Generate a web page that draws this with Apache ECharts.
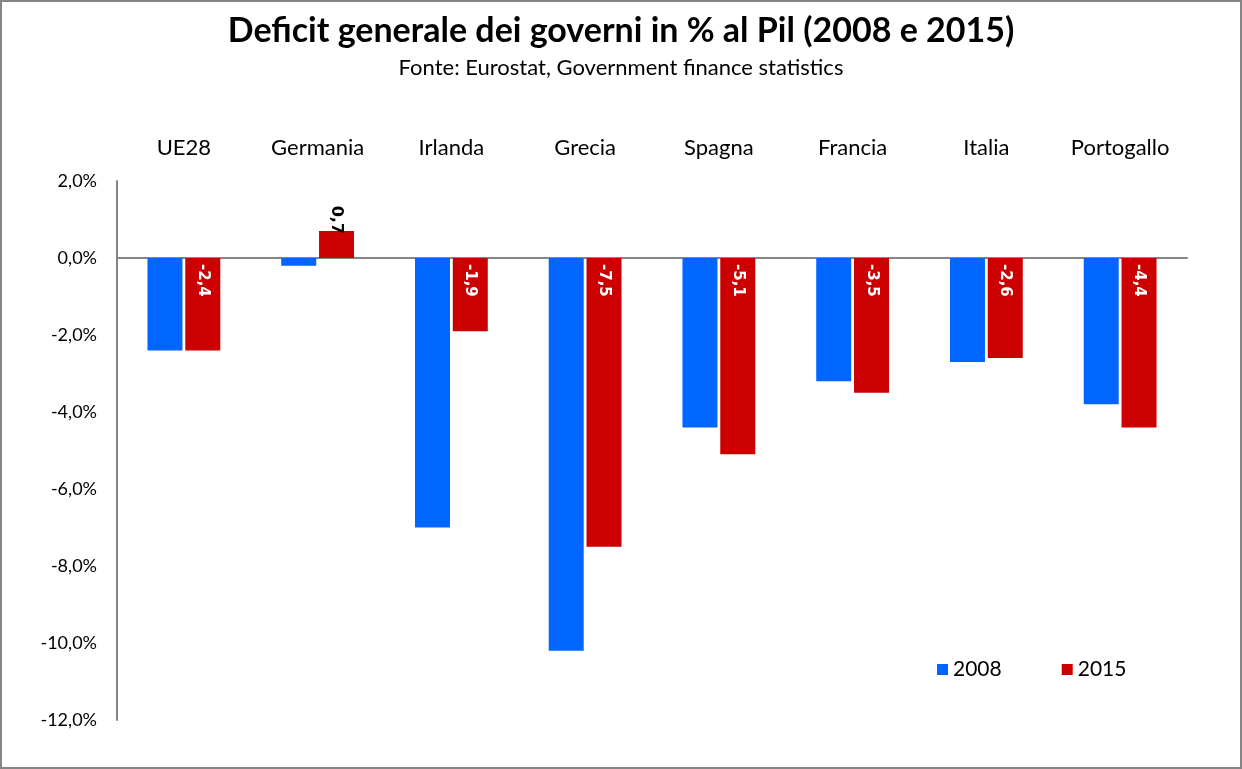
<!DOCTYPE html>
<html><head><meta charset="utf-8">
<script src="https://cdn.jsdelivr.net/npm/echarts@6/dist/echarts.min.js"></script>
<style>html,body{margin:0;padding:0;background:#fff}#c{width:1242px;height:769px}</style>
</head><body><div id="c"></div>
<script>
const categories = ['UE28','Germania','Irlanda','Grecia','Spagna','Francia','Italia','Portogallo'];
const values2008 = [-2.4, -0.2, -7.0, -10.2, -4.4, -3.2, -2.7, -3.8];
const values2015 = [-2.4, 0.7, -1.9, -7.5, -5.1, -3.5, -2.6, -4.4];
const seriesNames = ['2008', '2015'];
const FONT = 'Lato, "Open Sans", sans-serif';
const LFONT = '"DejaVu Sans", sans-serif';
const fmt = v => v.toFixed(1).replace('.', ',');

const chart = echarts.init(document.getElementById('c'), null, {renderer: 'canvas'});
chart.setOption({
  animation: false,
  textStyle: {fontFamily: FONT},
  title: {
    text: 'Deficit generale dei governi in % al Pil (2008 e 2015)',
    subtext: 'Fonte: Eurostat, Government finance statistics',
    left: 'center', top: 9, itemGap: 9,
    textStyle: {fontFamily: FONT, fontSize: 34, fontWeight: 'bold', color: '#000'},
    subtextStyle: {fontFamily: FONT, fontSize: 22, color: '#000'}
  },
  graphic: [{type: 'rect', shape: {x: 1, y: 1, width: 1240, height: 767}, style: {fill: 'none', stroke: '#868686', lineWidth: 2}, silent: true}],
  legend: {
    data: seriesNames, left: 932, top: 654, itemWidth: 11, itemHeight: 11, itemGap: 60,
    textStyle: {fontFamily: FONT, fontSize: 21, color: '#000'}, icon: 'rect'
  },
  grid: {left: 117, right: 55, top: 181, bottom: 49, containLabel: false},
  xAxis: [{
    type: 'category', data: categories, position: 'top',
    axisLine: {show: false, onZero: false}, axisTick: {show: false},
    axisLabel: {fontFamily: FONT, fontSize: 22, color: '#000', margin: 22}
  }, {
    type: 'category', data: categories, position: 'bottom',
    axisLine: {show: true, onZero: true, lineStyle: {color: '#868686', width: 2}},
    axisTick: {show: false}, axisLabel: {show: false}
  }],
  yAxis: {
    type: 'value', min: -12, max: 2, interval: 2,
    axisLine: {show: true, lineStyle: {color: '#868686', width: 2}},
    axisTick: {show: false}, splitLine: {show: false},
    axisLabel: {fontFamily: FONT, fontSize: 18, color: '#000', margin: 20, formatter: v => fmt(v) + '%'}
  },
  series: [{
    name: seriesNames[0], type: 'bar', data: values2008, barWidth: 35, barGap: '8%',
    itemStyle: {color: '#0066FF'}
  }, {
    name: seriesNames[1], type: 'bar', data: values2015.map(v => v >= 0 ? {
      value: v,
      label: {show: true, position: 'top', rotate: -90, align: 'right', verticalAlign: 'middle', distance: -3,
        color: '#000', fontWeight: 'bold', fontSize: 16, fontFamily: LFONT, formatter: p => fmt(p.value)}
    } : v), barWidth: 35,
    itemStyle: {color: '#CC0000'},
    label: {show: true, position: 'insideTop', rotate: -90, align: 'left', verticalAlign: 'middle', distance: 6,
      color: '#fff', fontWeight: 'bold', fontSize: 15, fontFamily: LFONT, formatter: p => fmt(p.value)}
  }]
});
</script></body></html>
